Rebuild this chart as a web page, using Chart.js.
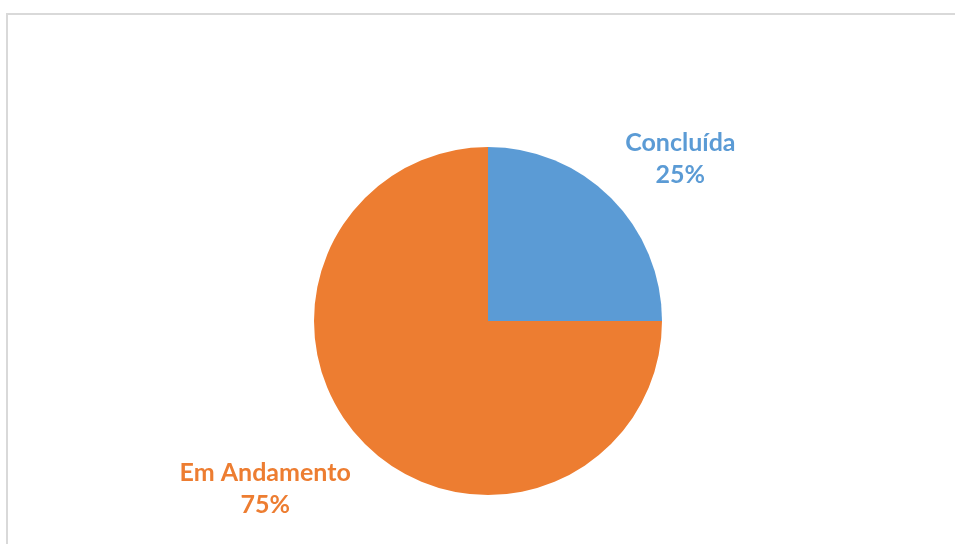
<!DOCTYPE html>
<html>
<head>
<meta charset="utf-8">
<script src="https://cdn.jsdelivr.net/npm/chart.js@4"></script>
<style>
  body { margin: 0; background: #fff; overflow: hidden; }
  #wrap { position: relative; width: 955px; height: 544px; }
  #frame {
    position: absolute; left: 6px; top: 13px; width: 960px; height: 540px;
    border-top: 2px solid #d9d9d9; border-left: 2px solid #d9d9d9;
  }
  #chart { position: absolute; left: 0; top: 0; }
</style>
</head>
<body>
<div id="wrap">
  <div id="frame"></div>
  <canvas id="chart" width="955" height="544"></canvas>
</div>
<script>
const categories = ["Concluída", "Em Andamento"];
const values = [25, 75];
const colors = ["#5b9bd5", "#ed7d31"];

// labels outside the pie, box corner toward the slice, like Excel's best fit
const outsideLabels = {
  id: "outsideLabels",
  afterDatasetsDraw(chart) {
    const ctx = chart.ctx;
    const meta = chart.getDatasetMeta(0);
    const total = values.reduce((a, b) => a + b, 0);
    ctx.save();
    ctx.font = "bold 25px Lato";
    ctx.textAlign = "center";
    ctx.textBaseline = "middle";
    meta.data.forEach((arc, i) => {
      const { x, y, outerRadius, startAngle, endAngle } = arc.getProps(
        ["x", "y", "outerRadius", "startAngle", "endAngle"], true);
      const mid = (startAngle + endAngle) / 2;
      const r = outerRadius + 20;
      const px = x + Math.cos(mid) * r;
      const py = y + Math.sin(mid) * r;
      const line1 = categories[i];
      const line2 = Math.round((values[i] / total) * 100) + "%";
      const w = Math.max(ctx.measureText(line1).width, ctx.measureText(line2).width);
      const h = 56;
      const cx = px + Math.sign(Math.cos(mid)) * w / 2;
      const cy = py + Math.sign(Math.sin(mid)) * h / 2 + 3;
      ctx.fillStyle = colors[i];
      ctx.fillText(line1, cx, cy - 16);
      ctx.fillText(line2, cx, cy + 16);
    });
    ctx.restore();
  },
};

new Chart(document.getElementById("chart").getContext("2d"), {
  type: "pie",
  data: {
    labels: categories,
    datasets: [
      {
        data: values,
        backgroundColor: colors,
        borderWidth: 0,
      },
    ],
  },
  options: {
    responsive: false,
    animation: false,
    layout: { padding: { top: 147, bottom: 49, left: 314, right: 293 } },
    plugins: {
      legend: { display: false },
      tooltip: { enabled: false },
    },
  },
  plugins: [outsideLabels],
});
</script>
</body>
</html>
